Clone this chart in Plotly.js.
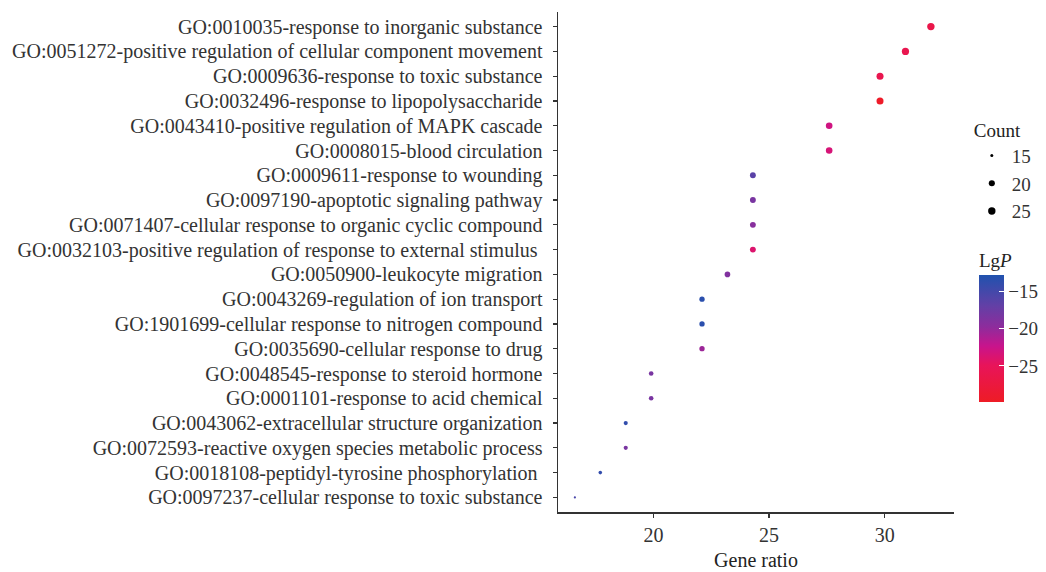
<!DOCTYPE html>
<html><head><meta charset="utf-8">
<script src="https://cdn.plot.ly/plotly-3.0.1.min.js"></script>
<style>body{margin:0;background:#fff}#chart{width:1046px;height:572px}</style>
</head><body><div id="chart"></div>
<script>
const terms = [
  "GO:0010035-response to inorganic substance",
  "GO:0051272-positive regulation of cellular component movement",
  "GO:0009636-response to toxic substance",
  "GO:0032496-response to lipopolysaccharide",
  "GO:0043410-positive regulation of MAPK cascade",
  "GO:0008015-blood circulation",
  "GO:0009611-response to wounding",
  "GO:0097190-apoptotic signaling pathway",
  "GO:0071407-cellular response to organic cyclic compound",
  "GO:0032103-positive regulation of response to external stimulus\u00a0",
  "GO:0050900-leukocyte migration",
  "GO:0043269-regulation of ion transport",
  "GO:1901699-cellular response to nitrogen compound",
  "GO:0035690-cellular response to drug",
  "GO:0048545-response to steroid hormone",
  "GO:0001101-response to acid chemical",
  "GO:0043062-extracellular structure organization",
  "GO:0072593-reactive oxygen species metabolic process",
  "GO:0018108-peptidyl-tyrosine phosphorylation\u00a0",
  "GO:0097237-cellular response to toxic substance"
];
const geneRatio = [32.0, 30.9, 29.8, 29.8, 27.6, 27.6, 24.3, 24.3, 24.3, 24.3, 23.2, 22.1, 22.1, 22.1, 19.9, 19.9, 18.8, 18.8, 17.7, 16.6];
const counts = [29, 28, 27, 27, 25, 25, 22, 22, 22, 22, 21, 20, 20, 20, 18, 18, 17, 17, 16, 15];
const lgP = [-26.5, -26, -26, -29.5, -23, -23.5, -16.5, -18.5, -19.5, -24, -19, -13.5, -13.5, -20.5, -18.5, -18.5, -14, -18.5, -14, -15.5];
const legendCounts = [15, 20, 25];
const xTicks = [20, 25, 30];

const cMin = -29.9, cMax = -12.9;
const cntMin = 15, cntMax = 29;
function sizeOf(c){ return 2.2 + 5.2*Math.sqrt((c - cntMin)/(cntMax - cntMin)); }

const FONT = "Liberation Serif, Times New Roman, serif";
const scale = [
  [0, '#ee1c25'], [0.29, '#e8145a'], [0.44, '#c8148c'],
  [0.59, '#8e2c9c'], [0.76, '#6240a6'], [1, '#2052ae']
];

const traces = [{
  type: 'scatter', mode: 'markers',
  x: geneRatio, y: terms, showlegend: false,
  marker: {
    size: counts.map(sizeOf), opacity: 1, color: lgP, cmin: cMin, cmax: cMax,
    colorscale: scale, line: {width: 0},
    colorbar: {
      title: {text: 'Lg<i>P</i>', font: {family: FONT, size: 19, color: '#222'}, side: 'top'},
      x: 1.063, xanchor: 'left', xpad: 0, y: 0.372, yanchor: 'middle', ypad: 0,
      len: 153, lenmode: 'pixels', thickness: 25, thicknessmode: 'pixels',
      outlinewidth: 0, ticks: 'inside', ticklen: 5, tickcolor: '#ffffff',
      tickvals: [-15, -20, -25], ticktext: ['\u221215', '\u221220', '\u221225'],
      tickfont: {family: FONT, size: 19, color: '#333'}
    }
  }
}];
legendCounts.forEach(c => traces.push({
  type: 'scatter', mode: 'markers', x: [null], y: [null],
  name: String(c), showlegend: true,
  marker: {size: sizeOf(c) + 0.8, color: '#000'}
}));

const layout = {
  width: 1046, height: 572,
  margin: {l: 558, r: 92, t: 12, b: 60, autoexpand: false},
  paper_bgcolor: '#fff', plot_bgcolor: '#fff',
  font: {family: FONT, color: '#333'},
  xaxis: {
    range: [15.87, 33.0], tickvals: xTicks, ticks: 'outside', ticklen: 4, tickcolor: '#333', tickwidth: 1.2,
    showline: true, linecolor: '#333', linewidth: 1.5, showgrid: false, zeroline: false,
    tickfont: {family: FONT, size: 20, color: '#333'}, ticklabelstandoff: 0,
    title: {text: 'Gene ratio', font: {family: FONT, size: 20, color: '#222'}, standoff: 8}
  },
  yaxis: {
    type: 'category', categoryorder: 'array', categoryarray: terms,
    range: [19.59, -0.59], ticks: 'outside', ticklen: 4, tickcolor: '#333', tickwidth: 1.2,
    showline: true, linecolor: '#333', linewidth: 1.5, showgrid: false, zeroline: false,
    tickfont: {family: FONT, size: 20, color: '#333'}, ticklabelstandoff: 6
  },
  legend: {
    title: {text: 'Count', font: {family: FONT, size: 19, color: '#222'}},
    x: 1.045, xanchor: 'left', y: 0.80, yanchor: 'top',
    font: {family: FONT, size: 19, color: '#333'},
    bgcolor: 'rgba(0,0,0,0)', itemwidth: 30, tracegroupgap: 0
  }
};
Plotly.newPlot('chart', traces, layout, {displayModeBar: false, staticPlot: true});
</script></body></html>
